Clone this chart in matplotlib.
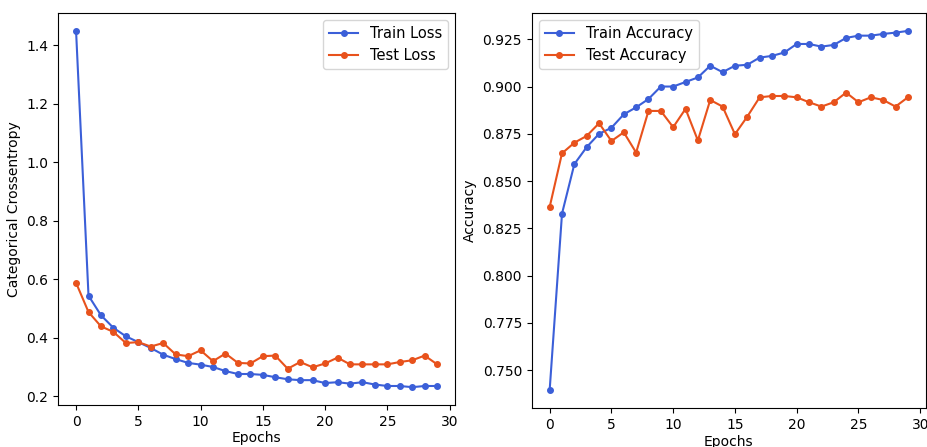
import matplotlib
matplotlib.use("Agg")
import matplotlib.pyplot as plt

epochs = list(range(30))

train_loss = [1.45, 0.544, 0.477, 0.434, 0.405, 0.385, 0.365, 0.342, 0.327, 0.314,
              0.308, 0.300, 0.286, 0.276, 0.276, 0.273, 0.265, 0.258, 0.255, 0.255,
              0.245, 0.248, 0.243, 0.248, 0.240, 0.235, 0.235, 0.231, 0.235, 0.235]
test_loss = [0.588, 0.488, 0.439, 0.420, 0.382, 0.385, 0.370, 0.382, 0.343, 0.337,
             0.357, 0.320, 0.346, 0.314, 0.312, 0.337, 0.339, 0.294, 0.317, 0.299,
             0.312, 0.332, 0.309, 0.309, 0.309, 0.309, 0.317, 0.323, 0.339, 0.309]

train_acc = [0.7395, 0.8328, 0.8590, 0.8680, 0.8750, 0.8782, 0.8853, 0.8890, 0.8934, 0.9000,
             0.9000, 0.9024, 0.9048, 0.9110, 0.9076, 0.9110, 0.9115, 0.9153, 0.9162, 0.9180,
             0.9225, 0.9225, 0.9211, 0.9220, 0.9257, 0.9269, 0.9269, 0.9278, 0.9285, 0.9294]
test_acc = [0.8363, 0.8647, 0.8703, 0.8739, 0.8806, 0.8712, 0.8758, 0.8651, 0.8871, 0.8871,
            0.8785, 0.8882, 0.8715, 0.8929, 0.8894, 0.8748, 0.8841, 0.8943, 0.8950, 0.8950,
            0.8943, 0.8917, 0.8894, 0.8917, 0.8968, 0.8917, 0.8943, 0.8929, 0.8894, 0.8943]

BLUE = "#3b5fd8"
ORANGE = "#e8521c"

fig = plt.figure(figsize=(9.28, 4.47), dpi=100)
ax1 = fig.add_axes([0.0625, 0.094, 0.428, 0.877])
ax2 = fig.add_axes([0.573, 0.087, 0.4246, 0.884])

ax1.plot(epochs, train_loss, marker="o", markersize=4, color=BLUE, label="Train Loss")
ax1.plot(epochs, test_loss, marker="o", markersize=4, color=ORANGE, label="Test Loss")
ax1.set_xlabel("Epochs", labelpad=2)
ax1.set_ylabel("Categorical Crossentropy")
ax1.set_xticks([0, 5, 10, 15, 20, 25, 30])
ax1.legend(loc="upper right", fontsize=10.5)

ax2.plot(epochs, train_acc, marker="o", markersize=4, color=BLUE, label="Train Accuracy")
ax2.plot(epochs, test_acc, marker="o", markersize=4, color=ORANGE, label="Test Accuracy")
ax2.set_xlabel("Epochs", labelpad=2)
ax2.set_ylabel("Accuracy")
ax2.set_xticks([0, 5, 10, 15, 20, 25, 30])
ax2.legend(loc="upper left", fontsize=10.5)

fig.savefig("out.png", dpi=100)
